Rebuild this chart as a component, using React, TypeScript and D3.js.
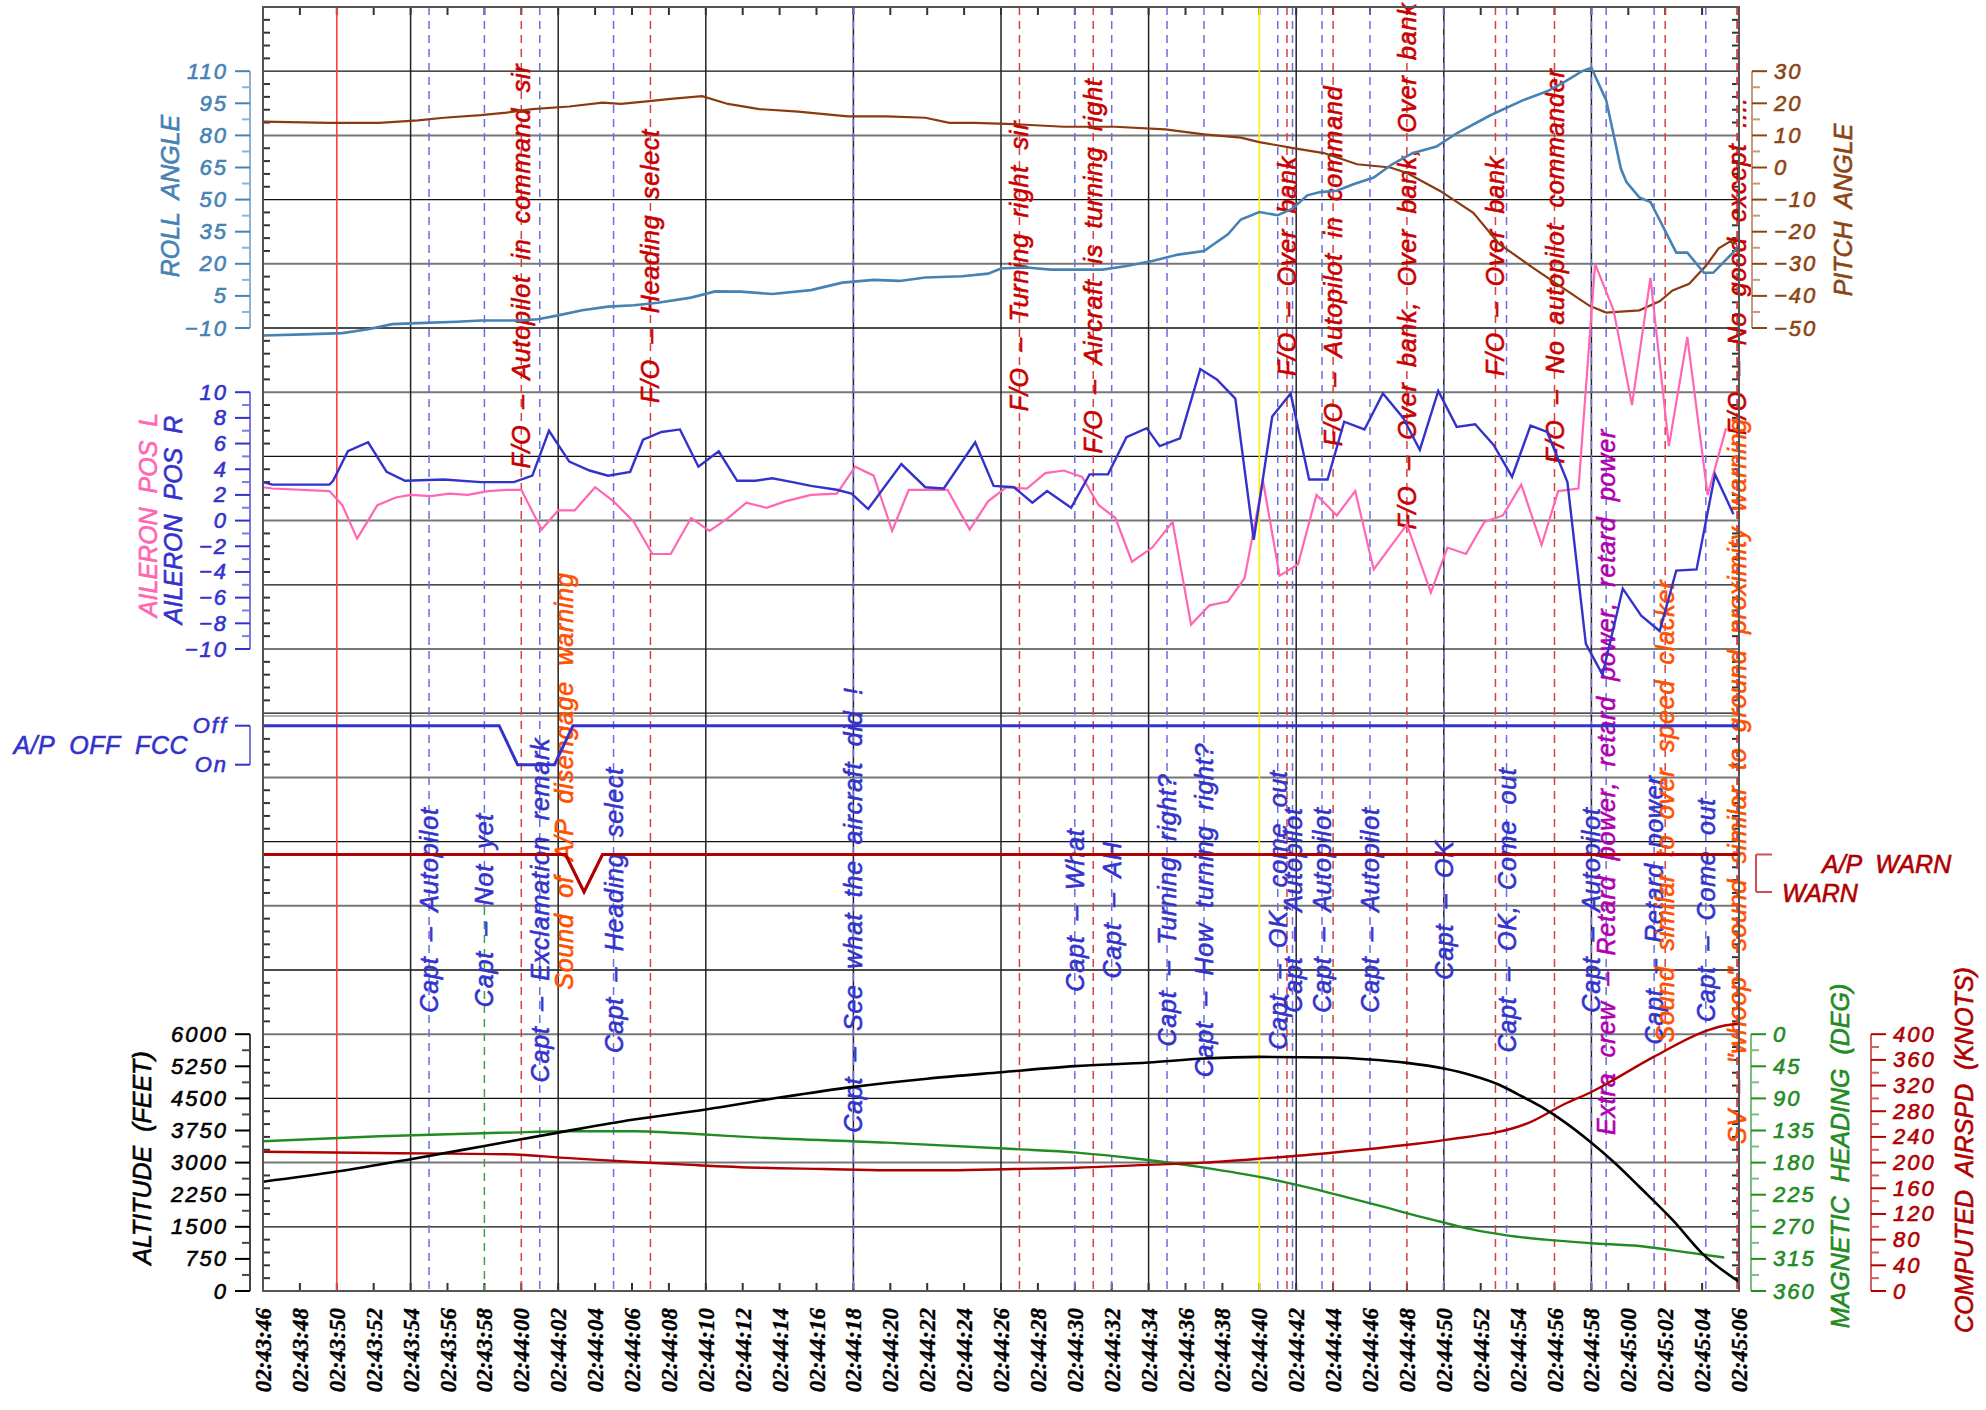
import React from 'react';
import * as d3 from 'd3';

// time axis: seconds after 02:43:46, one label every 2 s
const timeLabels = [
  '02:43:46', '02:43:48', '02:43:50', '02:43:52', '02:43:54', '02:43:56', '02:43:58',
  '02:44:00', '02:44:02', '02:44:04', '02:44:06', '02:44:08', '02:44:10', '02:44:12',
  '02:44:14', '02:44:16', '02:44:18', '02:44:20', '02:44:22', '02:44:24', '02:44:26',
  '02:44:28', '02:44:30', '02:44:32', '02:44:34', '02:44:36', '02:44:38', '02:44:40',
  '02:44:42', '02:44:44', '02:44:46', '02:44:48', '02:44:50', '02:44:52', '02:44:54',
  '02:44:56', '02:44:58', '02:45:00', '02:45:02', '02:45:04', '02:45:06',
];

// roll angle (deg)
const rollT = [0, 2.2, 4.3, 5.7, 7.0, 8.4, 10.5, 11.8, 13.9, 14.9, 16.0, 17.3, 18.7, 20.1, 21.4, 23.2, 24.5, 25.9, 27.6, 29.7, 31.4, 33.1, 34.5, 35.9, 37.9, 39.3, 40.0, 41.4, 42.7, 45.5, 46.8, 48.2, 49.6, 51.0, 52.3, 53.0, 54.0, 55.0, 55.8, 56.6, 57.3, 58.2, 59.1, 60.2, 61.2, 62.3, 63.6, 64.7, 66.5, 68.3, 69.6, 70.5, 71.5, 72.0, 72.8, 73.6, 73.9, 74.6, 75.2, 76.6, 77.2, 78.1, 78.6, 79.9];
const rollV = [-13.5, -13, -12.4, -10.6, -8.2, -7.7, -7.1, -6.5, -6.5, -5.9, -4.1, -1.7, 0, 0.6, 1.8, 4.2, 7.1, 7, 5.9, 7.7, 11.2, 12.5, 12, 13.6, 14.2, 15.4, 17.8, 18.3, 17.3, 17.3, 19, 21.3, 24.3, 26, 33.8, 40.7, 44.2, 42.7, 45.8, 52, 53.5, 54.1, 57.2, 60.3, 66.5, 71.7, 74.8, 81, 89.3, 96.5, 100.6, 104.8, 110, 111.6, 96.5, 64.4, 58.2, 51, 48.9, 25.2, 25.2, 15.8, 15.8, 27.2];

// pitch angle (deg)
const pitchT = [0, 3.6, 6.3, 8.4, 9.8, 11.8, 13.2, 14.6, 16.6, 18.4, 19.4, 20.8, 22.1, 23.8, 25.2, 26.9, 29.0, 31.7, 33.8, 35.9, 37.2, 38.6, 40.7, 43.4, 46.2, 48.9, 51.0, 53.0, 54.0, 56.0, 57.5, 59.3, 61.1, 62.0, 63.8, 65.6, 67.0, 68.7, 70.1, 71.9, 72.8, 74.6, 75.7, 76.4, 77.3, 78.2, 78.9, 79.5, 79.9];
const pitchV = [14.3, 13.9, 13.9, 14.7, 15.5, 16.3, 17.1, 18.2, 19, 20.2, 19.8, 20.6, 21.4, 22.2, 19.8, 18.2, 17.4, 15.9, 15.9, 15.5, 13.9, 13.9, 13.5, 12.7, 12.7, 11.9, 10.3, 9.3, 7.9, 5.9, 4.5, 1.0, 0, -1.7, -7.3, -14.1, -23.8, -30.7, -36.2, -43.1, -45.2, -44.5, -41.7, -38.3, -36.2, -30.7, -25.2, -23.1, -23.8];

// aileron position R
const ailRT = [0, 0.5, 3.6, 3.8, 4.6, 5.7, 6.7, 7.7, 9.8, 11.8, 13.6, 14.6, 15.5, 16.6, 17.7, 18.7, 19.9, 20.6, 21.6, 22.6, 23.6, 24.7, 25.7, 26.7, 27.6, 28.7, 29.7, 31.1, 31.9, 32.8, 34.6, 35.9, 36.9, 38.6, 39.6, 40.7, 41.7, 42.5, 43.8, 44.8, 45.8, 46.8, 47.9, 48.6, 49.7, 50.8, 51.7, 52.7, 53.7, 54.7, 55.7, 56.7, 57.7, 58.6, 59.7, 60.7, 61.8, 62.7, 63.7, 64.7, 65.7, 66.7, 67.7, 68.7, 69.6, 70.7, 71.7, 72.6, 73.7, 74.7, 75.7, 76.6, 77.7, 78.7, 79.7];
const ailRV = [3.0, 2.8, 2.8, 3.1, 5.4, 6.1, 3.8, 3.1, 3.2, 3.0, 3.0, 3.5, 7.0, 4.6, 3.9, 3.5, 3.8, 6.3, 6.9, 7.1, 4.2, 5.4, 3.1, 3.1, 3.3, 3.0, 2.7, 2.4, 2.1, 0.9, 4.4, 2.6, 2.5, 6.1, 2.7, 2.6, 1.4, 2.3, 1.0, 3.6, 3.6, 6.5, 7.2, 5.8, 6.4, 11.8, 11, 9.5, -1.5, 8.1, 9.9, 3.2, 3.2, 7.7, 7.1, 9.9, 8.0, 5.5, 10.1, 7.3, 7.5, 5.9, 3.4, 7.4, 6.9, 3.0, -9.6, -12.0, -5.3, -7.4, -8.6, -3.9, -3.8, 3.6, 0.5];

// aileron position L
const ailLT = [0, 0.5, 3.6, 4.3, 5.1, 6.2, 7.2, 8.0, 9.1, 10.1, 11.1, 12.2, 13.2, 14.0, 15.1, 16.0, 16.9, 18.0, 19.0, 20.1, 21.1, 22.1, 23.2, 24.2, 25.2, 26.2, 27.3, 28.3, 29.7, 31.1, 32.1, 33.1, 34.1, 35.0, 36.1, 37.1, 38.3, 39.3, 40.3, 41.4, 42.4, 43.4, 44.4, 45.3, 46.2, 47.1, 48.2, 49.3, 50.3, 51.3, 52.3, 53.2, 54.2, 55.1, 56.1, 57.1, 58.2, 59.2, 60.2, 62.0, 63.3, 64.2, 65.2, 66.2, 67.2, 68.2, 69.3, 70.2, 71.3, 72.2, 73.2, 74.2, 75.2, 76.2, 77.2, 78.3, 79.3];
const ailLV = [2.6, 2.5, 2.3, 1.2, -1.4, 1.2, 1.8, 2.0, 1.9, 2.1, 2.0, 2.3, 2.4, 2.4, -0.7, 0.8, 0.8, 2.6, 1.5, -0.1, -2.6, -2.6, 0.2, -0.8, 0.2, 1.4, 1.0, 1.5, 2.0, 2.1, 4.2, 3.5, -0.8, 2.4, 2.4, 2.4, -0.7, 1.5, 2.6, 2.5, 3.7, 3.9, 3.4, 1.2, 0.2, -3.2, -2.1, -0.1, -8.1, -6.6, -6.3, -4.5, 3.1, -4.3, -3.4, 2.0, 0.4, 2.3, -3.8, -0.3, -5.6, -2.1, -2.6, -0.1, 0.4, 2.8, -1.9, 2.3, 2.5, 20.0, 16.4, 9.0, 18.9, 5.8, 14.3, 2.0, 7.2];

// A/P OFF FCC and A/P WARN discretes
const apOffT = [0, 12.8, 13.8, 15.8, 16.8, 80];
const apOffV = ['Off', 'Off', 'On', 'On', 'Off', 'Off'];
const apWarnT = [0, 16.4, 17.4, 18.4, 80];
const apWarnV = ['A/P WARN', 'A/P WARN', 'WARN', 'A/P WARN', 'A/P WARN'];

// altitude (ft)
const altT = [0, 4, 8, 12, 16, 20, 24, 28, 32, 36, 40, 44, 48, 51, 54, 58, 60, 62, 64, 65.5, 67, 68, 69.3, 70.4, 72, 73.3, 74.6, 76.4, 78, 80];
const altV = [2552, 2790, 3080, 3390, 3700, 4000, 4242, 4520, 4770, 4960, 5110, 5253, 5339, 5432, 5470, 5456, 5409, 5330, 5199, 5043, 4820, 4600, 4300, 3992, 3464, 2980, 2435, 1660, 880, 217];

// magnetic heading (deg)
const hdgT = [0, 6.3, 13.2, 16.6, 20.1, 23.5, 26.9, 33.8, 40.7, 44.1, 47.5, 51.0, 54.4, 56.5, 58.5, 60.6, 62.6, 64.0, 65.4, 67.4, 69.5, 72, 74.6, 76.4, 79.2];
const hdgV = [150, 143, 138, 136, 136, 140, 145, 152, 161, 166, 175, 187, 202, 214, 227, 241, 255, 264, 273, 282, 288, 293, 297, 303, 313];

// computed airspeed (knots)
const spdT = [0, 6.3, 13.2, 16.6, 20.1, 23.5, 26.9, 30.4, 33.8, 37.2, 40.7, 44.1, 47.5, 51.0, 54.4, 57.8, 61.2, 64.0, 68.6, 70.6, 72.0, 72.9, 75.4, 78.3, 79.3, 80];
const spdV = [217, 215, 213, 207, 201, 196, 192, 190, 188, 188, 190, 192, 196, 200, 207, 215, 225, 235, 262, 292, 310, 324, 365, 406, 414, 416];

// cockpit voice remarks
const captT = [9, 12, 15, 19, 32, 44, 46, 49, 51, 55, 55.8, 57.4, 60, 64, 67.4, 72, 75.4, 78.2];
const captText = [
  'Capt  –  Autopilot', 'Capt  –  Not  yet', 'Capt  –  Exclamation  remark', 'Capt  –  Heading  select',
  'Capt  –  See  what  the  aircraft  did  !', 'Capt  –  What', 'Capt  –  AH', 'Capt  –  Turning  right?',
  'Capt  –  How  turning  right?', 'Capt  –  OK,  come  out', 'Capt  –  Autopilot', 'Capt  –  Autopilot',
  'Capt  –  Autopilot', 'Capt  –  OK', 'Capt  –  OK,  Come  out', 'Capt  –  Autopilot',
  'Capt  –  Retard  power', 'Capt  –  Come  out',
];
const foT = [14, 21, 41, 45, 55.5, 58, 62, 66.8, 70, 79.9];
const foText = [
  'F/O  –  Autopilot  in  command  sir', 'F/O  –  Heading  select', 'F/O  –  Turning  right  sir',
  'F/O  –  Aircraft  is  turning  right', 'F/O  –  Over  bank', 'F/O  –  Autopilot  in  command',
  'F/O  –  Over  bank,  Over  bank,  Over  bank', 'F/O  –  Over  bank', 'F/O  –  No  autopilot  commander',
  'F/O  –  No  good  except  ....',
];
const soundT = [16.3, 76, 79.9];
const soundText = [
  'Sound  of  A/P  disengage  warning', 'Sound  similar  to  over  speed  clacker',
  'SV  –  "whoop"  sound  similar  to  ground  proximity  warning',
];
const crewT = [72.8];
const crewText = ['Extra  crew  –  Retard  power,  retard  power,  retard  power'];
const redMarkT = 4;
const yellowMarkT = 54;

const SANS = '"Liberation Sans", Arial, sans-serif';
const SERIF = '"Liberation Serif", "Times New Roman", serif';
const PL = 263, PR = 1739, PT = 7, PB = 1291;
const ROW = (PB - PT) / 20;

const num = (v: number) => (v < 0 ? '\u2212' + Math.abs(v) : String(v));

function VAxis({ x, scale, major, minor, color, lineColor, side, fmt = num }: any) {
  const dir = side === 'left' ? -1 : 1;
  const ys = major.map((v: number) => scale(v));
  return (
    <g>
      <line x1={x} x2={x} y1={d3.min(ys)} y2={d3.max(ys)} stroke={lineColor} strokeWidth={2} />
      {minor.map((v: number) => (
        <line key={'m' + v} x1={x} x2={x + dir * 8} y1={scale(v)} y2={scale(v)} stroke={lineColor} strokeWidth={2} />
      ))}
      {major.map((v: number) => (
        <line key={'M' + v} x1={x} x2={x + dir * 15} y1={scale(v)} y2={scale(v)} stroke={color} strokeWidth={2} />
      ))}
      {major.map((v: number) => (
        <text key={'t' + v} x={x + dir * 22} y={scale(v)} textAnchor={side === 'left' ? 'end' : 'start'}
          dominantBaseline="central" fill={color} stroke={color} strokeWidth={0.6}
          fontSize={22} fontStyle="italic" letterSpacing={2}>
          {fmt(v)}
        </text>
      ))}
    </g>
  );
}

// rotated label, centred on (x, y)
function VText({ x, y, color, children, size = 25, spacing = 0.8 }: any) {
  return (
    <text transform={`translate(${x + 9},${y}) rotate(-90)`} textAnchor="middle" fill={color}
      stroke={color} strokeWidth={0.6} fontSize={size} fontStyle="italic" letterSpacing={spacing}
      style={{ whiteSpace: 'pre' }}>
      {children}
    </text>
  );
}

export default function App() {
  const x = d3.scaleLinear().domain([0, 80]).range([PL, PR]);
  const roll = d3.scaleLinear().domain([-10, 110]).range([PT + 5 * ROW, PT + ROW]);
  const pitch = d3.scaleLinear().domain([-50, 30]).range([PT + 5 * ROW, PT + ROW]);
  const ail = d3.scaleLinear().domain([-10, 10]).range([PT + 10 * ROW, PT + 6 * ROW]);
  const apOff = d3.scalePoint<string>().domain(['Off', 'On']).range([725.7, 764.7]);
  const apWarn = d3.scalePoint<string>().domain(['A/P WARN', 'WARN']).range([854.5, 892]);
  const alt = d3.scaleLinear().domain([0, 6000]).range([PB, PT + 16 * ROW]);
  const hdg = d3.scaleLinear().domain([0, 360]).range([PT + 16 * ROW, PB]);
  const spd = d3.scaleLinear().domain([0, 400]).range([PB, PT + 16 * ROW]);

  const path = (ts: number[], vs: any[], y: (v: any) => number, curve: d3.CurveFactory = d3.curveLinear) =>
    d3.line<any>().x((_, i) => x(ts[i])).y((v) => y(v)).curve(curve)(vs) ?? '';

  const tickSec = d3.range(0, 81, 2);
  const gridSec = d3.range(8, 80, 8);
  const minorY = d3.range(0, 101).map((i) => PT + (i * ROW) / 5).filter((_, i) => i % 5 !== 0);

  const dash = '8,6';
  const captCol = '#3333cc';
  const foCol = '#c80000';
  const soundCol = '#ff5000';
  const crewCol = '#b000b0';

  return (
    <svg width={1986} height={1410} style={{ position: 'absolute', left: 0, top: 0, background: '#fff' }} fontFamily={SANS}>
      <rect x={0} y={0} width={1986} height={1410} fill="#fff" />

      {/* horizontal grid */}
      {d3.range(1, 20).map((i) => (
        <line key={'h' + i} x1={PL} x2={PR} y1={PT + i * ROW} y2={PT + i * ROW}
          stroke={i % 2 ? '#111' : '#777'} strokeWidth={i % 2 ? 1.3 : 2} />
      ))}
      <line x1={PL} x2={PR} y1={716} y2={716} stroke="#999" strokeWidth={1.5} />
      {/* vertical grid */}
      {gridSec.map((s) => (
        <line key={'v' + s} x1={x(s)} x2={x(s)} y1={PT} y2={PB} stroke="#222" strokeWidth={1.5} />
      ))}

      {/* frame ticks */}
      {minorY.map((y, i) => (
        <g key={'fy' + i}>
          <line x1={PL} x2={PL + 7} y1={y} y2={y} stroke="#333" strokeWidth={2} />
          <line x1={PR - 7} x2={PR} y1={y} y2={y} stroke="#333" strokeWidth={2} />
        </g>
      ))}
      {tickSec.map((s) => (
        <g key={'fx' + s}>
          <line x1={x(s)} x2={x(s)} y1={PT} y2={PT + 8} stroke="#333" strokeWidth={2} />
          <line x1={x(s)} x2={x(s)} y1={PB - 8} y2={PB} stroke="#333" strokeWidth={2} />
        </g>
      ))}

      {/* event lines */}
      <line x1={x(redMarkT)} x2={x(redMarkT)} y1={PT} y2={PB} stroke="#ff4040" strokeWidth={1.6} />
      <line x1={x(yellowMarkT)} x2={x(yellowMarkT)} y1={PT} y2={PB} stroke="#ffee00" strokeWidth={1.6} />
      {captT.map((s, i) => (
        <line key={'cl' + i} x1={x(s)} x2={x(s)} y1={PT} y2={i === 1 ? 907 : PB} stroke="#6e6ee0" strokeWidth={1.5} strokeDasharray={dash} />
      ))}
      <line x1={x(captT[1])} x2={x(captT[1])} y1={907} y2={PB} stroke="#40a040" strokeWidth={1.5} strokeDasharray={dash} />
      {foT.map((s, i) => (
        <line key={'fl' + i} x1={x(s)} x2={x(s)} y1={PT} y2={PB} stroke="#d84040" strokeWidth={1.5} strokeDasharray={dash} />
      ))}
      {soundT.slice(1).map((s, i) => (
        <line key={'sl' + i} x1={x(s)} x2={x(s)} y1={PT} y2={PB} stroke="#d84040" strokeWidth={1.5} strokeDasharray={dash} />
      ))}
      {crewT.map((s, i) => (
        <line key={'xl' + i} x1={x(s)} x2={x(s)} y1={PT} y2={PB} stroke="#6e6ee0" strokeWidth={1.5} strokeDasharray={dash} />
      ))}

      {/* remarks */}
      {foT.map((s, i) => <VText key={'ft' + i} x={x(s)} y={266} color={foCol}>{foText[i]}</VText>)}
      {captT.map((s, i) => <VText key={'ct' + i} x={x(s)} y={910} color={captCol}>{captText[i]}</VText>)}
      {soundT.map((s, i) => <VText key={'st' + i} x={x(s)} y={i === 1 ? 811 : 781} color={soundCol}>{soundText[i]}</VText>)}
      {crewT.map((s, i) => <VText key={'xt' + i} x={x(s)} y={782} color={crewCol}>{crewText[i]}</VText>)}

      {/* data */}
      <path d={path(pitchT, pitchV, pitch)} fill="none" stroke="#8b3a0f" strokeWidth={2.2} />
      <path d={path(rollT, rollV, roll)} fill="none" stroke="#4682b4" strokeWidth={2.6} />
      <path d={path(ailLT, ailLV, ail)} fill="none" stroke="#ff66b3" strokeWidth={2.2} />
      <path d={path(ailRT, ailRV, ail)} fill="none" stroke="#3333cc" strokeWidth={2.4} />
      <path d={path(apOffT, apOffV, (v) => apOff(v) as number)} fill="none" stroke="#3333cc" strokeWidth={3} />
      <path d={path(apWarnT, apWarnV, (v) => apWarn(v) as number)} fill="none" stroke="#b00000" strokeWidth={3.2} />
      <path d={path(hdgT, hdgV, hdg, d3.curveMonotoneX)} fill="none" stroke="#228b22" strokeWidth={2.4} />
      <path d={path(spdT, spdV, spd, d3.curveMonotoneX)} fill="none" stroke="#b00000" strokeWidth={2.4} />
      <path d={path(altT, altV, alt, d3.curveMonotoneX)} fill="none" stroke="#000" strokeWidth={2.6} />

      {/* frame */}
      <rect x={PL} y={PT} width={PR - PL} height={PB - PT} fill="none" stroke="#555" strokeWidth={2} />

      {/* left axes */}
      <VAxis x={250} side="left" scale={roll} major={d3.range(-10, 111, 15)} minor={d3.range(-2.5, 110, 15)} color="#4682b4" lineColor="#8cb2d6" />
      <VText x={170} y={196} color="#4682b4" spacing={0}>{'ROLL  ANGLE'}</VText>
      <VAxis x={250} side="left" scale={ail} major={d3.range(-10, 11, 2)} minor={d3.range(-9, 10, 2)} color="#3333cc" lineColor="#7a7ae0" />
      <VText x={148} y={515} color="#ff66b3" spacing={0}>{'AILERON  POS  L'}</VText>
      <VText x={173} y={520} color="#3333cc" spacing={0}>{'AILERON  POS  R'}</VText>
      <VAxis x={250} side="left" scale={(v: string) => apOff(v)} major={['Off', 'On']} minor={[]} color="#3333cc" lineColor="#7a7ae0" fmt={(v: string) => v} />
      <text x={188} y={745} textAnchor="end" dominantBaseline="central" fill="#3333cc" stroke="#3333cc" strokeWidth={0.6}
        fontSize={25} fontStyle="italic" letterSpacing={0.5} style={{ whiteSpace: 'pre' }}>{'A/P  OFF  FCC'}</text>
      <VAxis x={250} side="left" scale={alt} major={d3.range(0, 6001, 750)} minor={d3.range(375, 6000, 750)} color="#000" lineColor="#444" />
      <VText x={142} y={1158} color="#000" spacing={0}>{'ALTITUDE  (FEET)'}</VText>

      {/* right axes */}
      <VAxis x={1752} side="right" scale={pitch} major={d3.range(-50, 31, 10)} minor={d3.range(-45, 30, 10)} color="#8b4513" lineColor="#c49a7a" />
      <VText x={1843} y={210} color="#8b4513" spacing={0}>{'PITCH  ANGLE'}</VText>
      <g>
        <line x1={1756} x2={1756} y1={apWarn('A/P WARN')} y2={apWarn('WARN')} stroke="#d05050" strokeWidth={2} />
        <line x1={1756} x2={1772} y1={apWarn('A/P WARN')} y2={apWarn('A/P WARN')} stroke="#d05050" strokeWidth={2} />
        <line x1={1756} x2={1772} y1={apWarn('WARN')} y2={apWarn('WARN')} stroke="#d05050" strokeWidth={2} />
        <text x={1822} y={(apWarn('A/P WARN') as number) + 9} dominantBaseline="central" fill="#b00000" stroke="#b00000" strokeWidth={0.6}
          fontSize={25} fontStyle="italic" style={{ whiteSpace: 'pre' }}>{'A/P  WARN'}</text>
        <text x={1782} y={(apWarn('WARN') as number) + 1} dominantBaseline="central" fill="#b00000" stroke="#b00000" strokeWidth={0.6}
          fontSize={25} fontStyle="italic">WARN</text>
      </g>
      <VAxis x={1751} side="right" scale={hdg} major={d3.range(0, 361, 45)} minor={d3.range(22.5, 360, 45)} color="#228b22" lineColor="#7cbf7c" />
      <VText x={1840} y={1156} color="#228b22" spacing={0}>{'MAGNETIC  HEADING  (DEG)'}</VText>
      <VAxis x={1871} side="right" scale={spd} major={d3.range(0, 401, 40)} minor={d3.range(20, 400, 40)} color="#b00000" lineColor="#d06060" />
      <VText x={1964} y={1150} color="#b00000" spacing={0}>{'COMPUTED  AIRSPD  (KNOTS)'}</VText>

      {/* time labels */}
      {tickSec.map((s, i) => (
        <text key={'tl' + s} transform={`translate(${x(s) + 8},1308) rotate(-90)`} textAnchor="end"
          fontFamily={SERIF} fontWeight="bold" fontStyle="italic" fontSize={23} fill="#000" stroke="#000" strokeWidth={0.4}>
          {timeLabels[i]}
        </text>
      ))}
    </svg>
  );
}
